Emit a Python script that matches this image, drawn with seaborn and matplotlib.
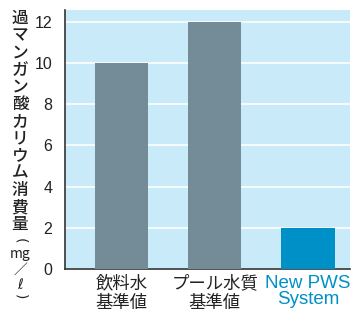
import matplotlib
matplotlib.use('Agg')
import matplotlib.pyplot as plt
import seaborn as sns
import pandas as pd

#########
# data
#########
categories = ['飲料水\n基準値', 'プール水質\n基準値', 'New PWS\nSystem']
values = [10, 12, 2]
bar_colors = ['#748b98', '#748b98', '#0090c8']
yticks = [0, 2, 4, 6, 8, 10, 12]
ylabel_chars = list('過マンガン酸カリウム消費量')
ylabel_unit = ['(', 'mg', '／', 'ℓ', ')']

df = pd.DataFrame({'cat': categories, 'val': values})

sns.set_style('white')
plt.rcParams['font.family'] = ['Noto Sans CJK JP', 'DejaVu Sans']

fig = plt.figure(figsize=(3.56, 3.16), dpi=100)
ax = fig.add_axes([65 / 356, 47 / 316, 285 / 356, 259 / 316])
ax.set_facecolor('#c8eaf9')

sns.barplot(data=df, x='cat', y='val', hue='cat', palette=bar_colors,
            width=0.57, legend=False, saturation=1, linewidth=0, ax=ax, zorder=3)

ax.set_xlim(-0.607, 2.45)
ax.set_ylim(0, 12.58)
ax.set_yticks(yticks)
ax.set_yticklabels([str(t) for t in yticks], family='Liberation Sans', fontsize=11.5,
                   color='#222222')
ax.yaxis.grid(True, color='white', linewidth=1.2, zorder=1)
ax.set_axisbelow(True)
ax.tick_params(axis='both', length=0)
ax.tick_params(axis='y', pad=9)
ax.tick_params(axis='x', pad=4)
ax.set_xlabel('')
ax.set_ylabel('')

for s in ['top', 'right']:
    ax.spines[s].set_visible(False)
for s in ['left', 'bottom']:
    ax.spines[s].set_color('#333333')
    ax.spines[s].set_linewidth(1.2)

labs = ax.get_xticklabels()
for i, lab in enumerate(labs):
    lab.set_fontsize(12.5)
    lab.set_linespacing(1.1)
    if i == 2:
        lab.set_color('#0090c8')
        lab.set_family('Liberation Sans')
        lab.set_fontsize(13.5)
        lab.set_linespacing(0.95)
    else:
        lab.set_color('#222222')

# vertical y label, one character per line
for i, ch in enumerate(ylabel_chars):
    fig.text(20 / 356, 1 - (18 + 17.2 * i) / 316, ch, ha='center', va='center',
             fontsize=12, color='#222222', fontweight='medium')
unit_y = [241, 254, 270, 285, 297]
unit_rot = [-90, 0, 0, 0, -90]
unit_fs = [10, 10, 10, 10, 10]
for ch, yy, rot, fs in zip(ylabel_unit, unit_y, unit_rot, unit_fs):
    fig.text(20 / 356, 1 - yy / 316, ch, ha='center', va='center', rotation=rot,
             fontsize=fs, color='#222222', family='DejaVu Sans' if ch in '()ℓ' else None)

plt.savefig('out.png', dpi=100)
